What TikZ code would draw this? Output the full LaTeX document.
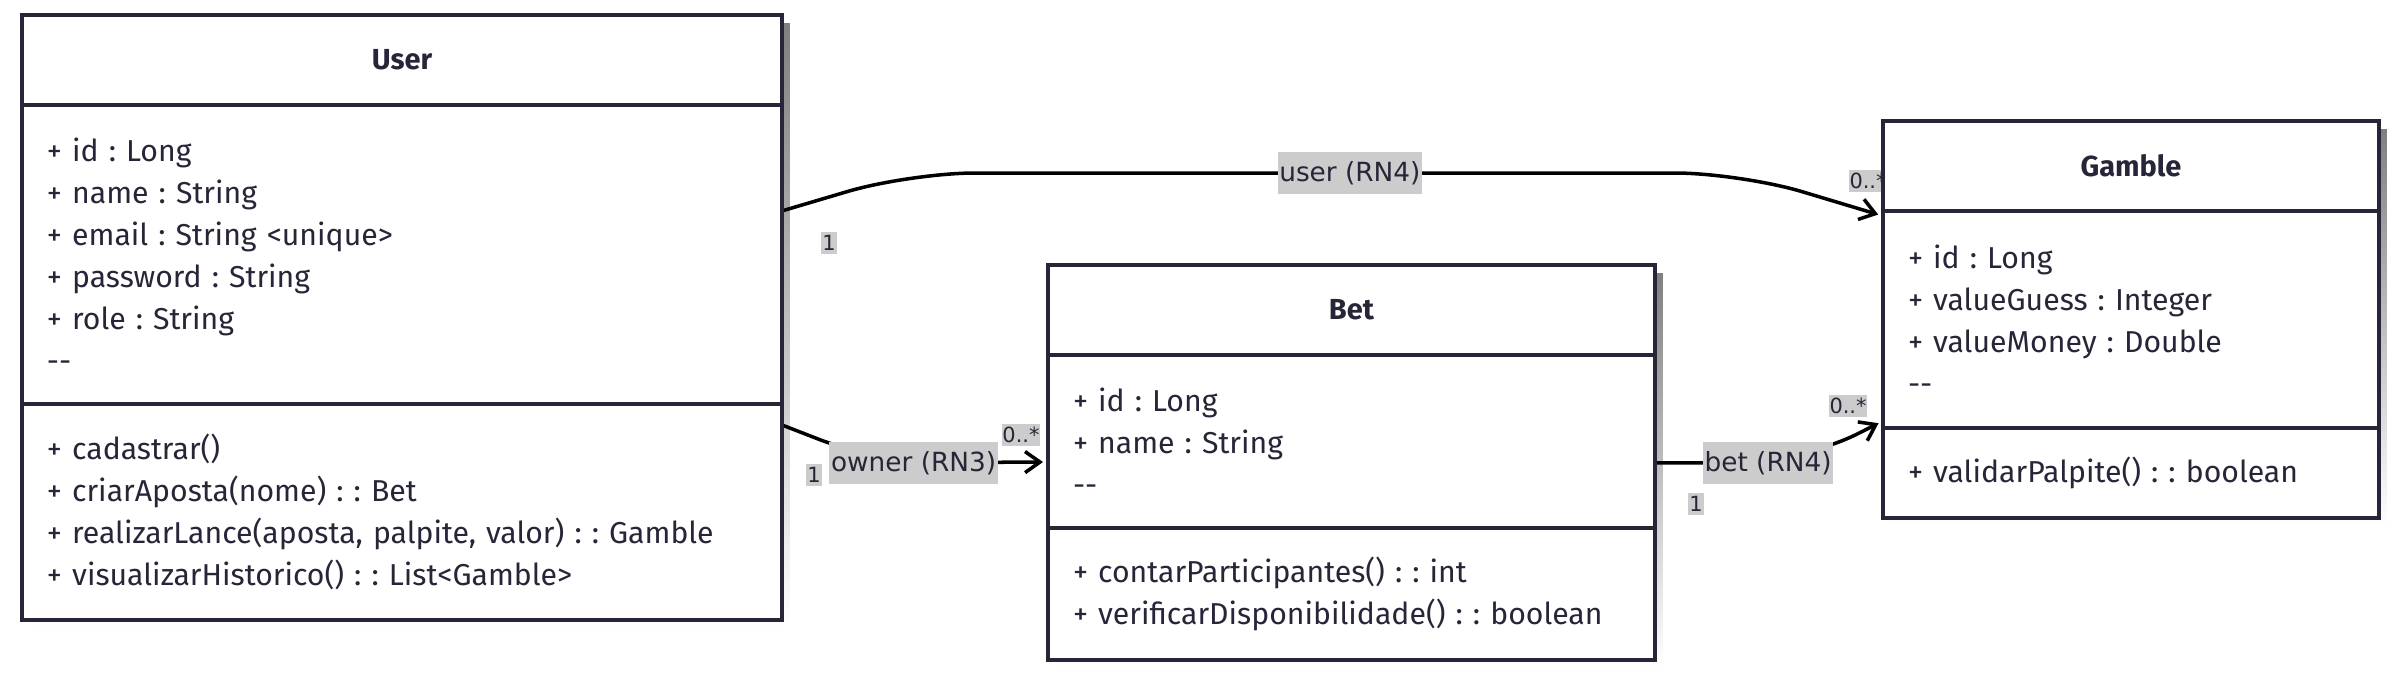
\documentclass[tikz,border=0pt]{standalone}
\usepackage{fontspec}
\setmainfont{Fira Sans}
\newfontfamily\lblfam{DejaVu Sans}
\usetikzlibrary{arrows.meta,positioning,backgrounds}
\definecolor{ink}{HTML}{262638}
\definecolor{lblgray}{HTML}{CCCCCC}
\definecolor{shade}{HTML}{EEEEEE}
\tikzset{
  clshead/.style={
    rectangle, draw=ink, line width=2pt, fill=white, outer sep=0pt,
    text=ink, font=\bfseries\fontsize{16.5}{19}\selectfont,
    minimum height=1.8cm, inner sep=0pt
  },
  clsbody/.style={
    rectangle, draw=ink, line width=2pt, fill=white, outer sep=0pt,
    text=ink, font=\fontsize{17.2}{23.9}\selectfont,
    align=left, inner xsep=0.5cm, inner ysep=0pt
  },
  lbl/.style={
    sharp corners, fill=lblgray, text=ink, font=\lblfam\fontsize{15}{18}\selectfont,
    inner xsep=1pt, inner ysep=0pt, minimum height=0.84cm
  },
  mult/.style={
    fill=lblgray, text=ink, font=\lblfam\fontsize{11.9}{14}\selectfont,
    inner xsep=0.5pt, inner ysep=0pt, minimum height=0.44cm
  },
  assoc/.style={
    -{Straight Barb[length=8.5pt,width=12pt]}, line width=2pt, black,
    rounded corners=1.3cm, shorten >=0.1cm
  }
}
\begin{document}
\frenchspacing
\begin{tikzpicture}[x=0.02cm, y=-0.02cm]
\useasboundingbox (0,0) rectangle (2402,677);

% ── User ──────────────────────────────────────────────────────────
\node[clshead, minimum width=15.2cm, anchor=north west] (userhead) at (22,15) {User};
\node[clsbody, text width=14.2cm, minimum height=5.98cm, below=0pt of userhead] (userattr)
  {+ id : Long\\
   + name : String\\
   + email : String <unique>\\
   + password : String\\
   + role : String\\
   -{}-};
\node[clsbody, text width=14.2cm, minimum height=4.32cm, below=0pt of userattr] (usermeth)
  {+ cadastrar()\\
   + criarAposta(nome) : : Bet\\
   + realizarLance(aposta, palpite, valor) : : Gamble\\
   + visualizarHistorico() : : List<Gamble>};

% ── Bet ───────────────────────────────────────────────────────────
\node[clshead, minimum width=12.14cm, anchor=north west] (bethead) at (1048,265) {Bet};
\node[clsbody, text width=11.14cm, minimum height=3.46cm, below=0pt of bethead] (betattr)
  {+ id : Long\\
   + name : String\\
   -{}-};
\node[clsbody, text width=11.14cm, minimum height=2.64cm, below=0pt of betattr] (betmeth)
  {+ contarParticipantes() : : int\\
   + verificarDisponibilidade() : : boolean};

% ── Gamble ────────────────────────────────────────────────────────
\node[clshead, minimum width=9.92cm, anchor=north west] (gamblehead) at (1883,121) {Gamble};
\node[clsbody, text width=8.92cm, minimum height=4.34cm, below=0pt of gamblehead] (gambleattr)
  {+ id : Long\\
   + valueGuess : Integer\\
   + valueMoney : Double\\
   -{}-};
\node[clsbody, text width=8.92cm, minimum height=1.8cm, below=0pt of gambleattr] (gamblemeth)
  {+ validarPalpite() : : boolean};

\begin{scope}[on background layer]
% ── Shadows ───────────────────────────────────────────────────────
\fill[shade] ([shift={(0.16cm,-0.16cm)}]userhead.north west) rectangle ([shift={(0.16cm,-0.16cm)}]usermeth.south east);
\fill[shade] ([shift={(0.16cm,-0.16cm)}]bethead.north west) rectangle ([shift={(0.16cm,-0.16cm)}]betmeth.south east);
\fill[shade] ([shift={(0.16cm,-0.16cm)}]gamblehead.north west) rectangle ([shift={(0.16cm,-0.16cm)}]gamblemeth.south east);

% ── Associations ──────────────────────────────────────────────────
\draw[assoc] ([yshift=-2.12cm]userattr.north east) -- (910,173)
  -- node[lbl, pos=0.53] (lbluser) {user (RN4)} (1740,173)
  -- ([yshift=-0.1cm]gambleattr.north west);
\draw[assoc] ([yshift=-0.42cm]usermeth.north east) -- (880,463)
  -- node[lbl, pos=0.2] (lblowner) {owner (RN3)} ([yshift=-2.14cm]betattr.north west);
\draw[assoc] ([yshift=-2.16cm]betattr.north east)
  -- node[lbl, pos=0.78] (lblbet) {bet (RN4)} (1800,463)
  -- ([yshift=0.14cm]gambleattr.south west);

% ── Multiplicities ────────────────────────────────────────────────
\node[mult] (m1a) at (829,243) {1};
\node[mult] (m1b) at (1868,181) {0..*};
\node[mult] (m2a) at (814,475) {1};
\node[mult] (m2b) at (1021,435) {0..*};
\node[mult] (m3a) at (1696,504) {1};
\node[mult] (m3b) at (1848,406) {0..*};
\end{scope}

\end{tikzpicture}
\end{document}
